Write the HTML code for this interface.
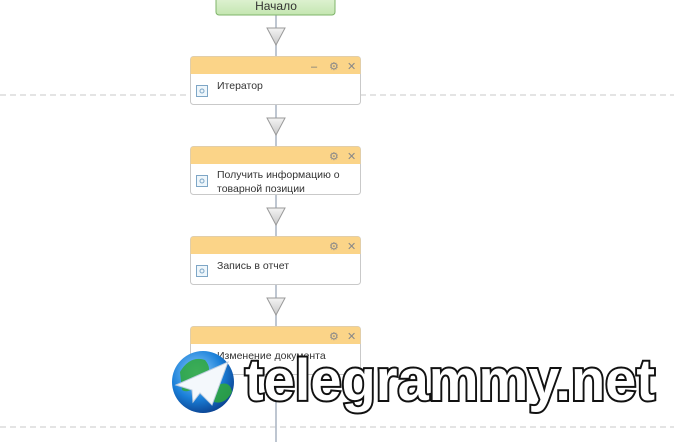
<!DOCTYPE html>
<html><head><meta charset="utf-8"><style>html,body{margin:0;padding:0;background:#fff;width:674px;height:442px;overflow:hidden}</style></head>
<body>
<svg width="674" height="442" viewBox="0 0 674 442" xmlns="http://www.w3.org/2000/svg" font-family="Liberation Sans, DejaVu Sans, sans-serif">
<defs>
<linearGradient id="g" x1="0" y1="0" x2="0" y2="1"><stop offset="0" stop-color="#e6f5dc"/><stop offset="1" stop-color="#c4e6b0"/></linearGradient>
<radialGradient id="globe" cx="0.4" cy="0.35" r="0.7"><stop offset="0" stop-color="#8fd0ff"/><stop offset="0.6" stop-color="#1a7fd8"/><stop offset="1" stop-color="#0a3e8c"/></radialGradient>
<linearGradient id="tri" x1="0" y1="0" x2="0" y2="1"><stop offset="0" stop-color="#f4f4f4"/><stop offset="1" stop-color="#c8c8c8"/></linearGradient>
</defs>
<line x1="0" y1="95" x2="674" y2="95" stroke="#c8c8c8" stroke-dasharray="6,4"/>
<line x1="0" y1="427" x2="674" y2="427" stroke="#c8c8c8" stroke-dasharray="6,4"/>
<line x1="276" y1="14" x2="276" y2="442" stroke="#a9b4c2" stroke-width="1.5"/>
<rect x="216" y="-6" width="119" height="21" rx="3" fill="url(#g)" stroke="#7fb46a"/>
<text x="276" y="10" font-size="12" text-anchor="middle" fill="#333">Начало</text>
<g fill="url(#tri)" stroke="#9a9a9a">
<path d="M267 28 L285 28 L276 45 Z"/><path d="M267 118 L285 118 L276 135 Z"/><path d="M267 208 L285 208 L276 225 Z"/><path d="M267 298 L285 298 L276 315 Z"/>
</g>
<g font-size="10.5" fill="#333">
<g>
<rect x="190.5" y="56.5" width="170" height="48" rx="3" fill="#fff" stroke="#c9c9c9"/>
<path d="M190.5 74 V59.5 a3 3 0 0 1 3 -3 H357.5 a3 3 0 0 1 3 3 V74 Z" fill="#fbd488"/>
<text x="217" y="89">Итератор</text>
<text x="311" y="70" fill="#777" font-size="11">–</text>
</g>
<g transform="translate(0,90)">
<rect x="190.5" y="56.5" width="170" height="48" rx="3" fill="#fff" stroke="#c9c9c9"/>
<path d="M190.5 74 V59.5 a3 3 0 0 1 3 -3 H357.5 a3 3 0 0 1 3 3 V74 Z" fill="#fbd488"/>
<text x="217" y="88">Получить информацию о</text><text x="217" y="102">товарной позиции</text>
</g>
<g transform="translate(0,180)">
<rect x="190.5" y="56.5" width="170" height="48" rx="3" fill="#fff" stroke="#c9c9c9"/>
<path d="M190.5 74 V59.5 a3 3 0 0 1 3 -3 H357.5 a3 3 0 0 1 3 3 V74 Z" fill="#fbd488"/>
<text x="217" y="89">Запись в отчет</text>
</g>
<g transform="translate(0,270)">
<rect x="190.5" y="56.5" width="170" height="48" rx="3" fill="#fff" stroke="#c9c9c9"/>
<path d="M190.5 74 V59.5 a3 3 0 0 1 3 -3 H357.5 a3 3 0 0 1 3 3 V74 Z" fill="#fbd488"/>
<text x="217" y="89">Изменение документа</text>
</g>
</g>
<g fill="#888" font-size="11">
<text x="329" y="70">⚙</text><text x="347" y="70">✕</text>
<text x="329" y="160">⚙</text><text x="347" y="160">✕</text>
<text x="329" y="250">⚙</text><text x="347" y="250">✕</text>
<text x="329" y="340">⚙</text><text x="347" y="340">✕</text>
</g>
<g fill="#eef6fb" stroke="#7ea6c6">
<rect x="196.5" y="85.5" width="11" height="11"/><rect x="196.5" y="175.5" width="11" height="11"/><rect x="196.5" y="265.5" width="11" height="11"/>
</g>
<g fill="none" stroke="#7ea6c6"><circle cx="202" cy="91" r="2"/><circle cx="202" cy="181" r="2"/><circle cx="202" cy="271" r="2"/></g>
<circle cx="203" cy="382" r="31" fill="url(#globe)"/>
<path d="M180 372 Q190 355 205 360 Q215 372 200 380 Q190 395 182 390 Z" fill="#2fa83a" opacity="0.85"/>
<path d="M218 385 Q230 380 232 392 Q225 405 214 402 Z" fill="#2fa83a" opacity="0.85"/>
<path d="M176 385 L228 362 L212 405 L200 393 L193 402 L192 390 Z" fill="#f4f8fc" stroke="#c0cfe0"/>
<text x="245" y="400" font-size="58" font-weight="bold" fill="#fff" stroke="#111" stroke-width="4" paint-order="stroke" textLength="410" lengthAdjust="spacingAndGlyphs">telegrammy.net</text>
</svg>
</body></html>
